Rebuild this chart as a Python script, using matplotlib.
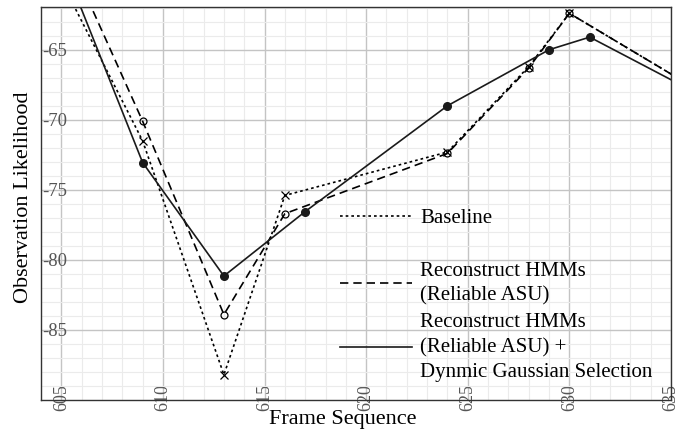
import matplotlib
matplotlib.use("Agg")
import matplotlib.pyplot as plt
from matplotlib.ticker import MultipleLocator

plt.rcParams['font.family'] = ['Liberation Serif', 'DejaVu Serif']

# Data (frame index, observation likelihood)
baseline_x = [605, 609, 613, 616, 624, 628, 630, 636]
baseline_y = [-60.1, -71.5, -88.2, -75.4, -72.3, -66.2, -62.4, -67.6]

reliable_x = [605, 609, 613, 616, 624, 628, 630, 636]
reliable_y = [-57.2, -70.1, -83.9, -76.7, -72.4, -66.3, -62.4, -67.6]

dgs_x = [605, 609, 613, 617, 624, 629, 631, 636]
dgs_y = [-58.5, -73.05, -81.15, -76.55, -69.0, -65.0, -64.1, -67.9]

labels = ["Baseline",
          "Reconstruct HMMs\n(Reliable ASU)",
          "Reconstruct HMMs\n(Reliable ASU) +\nDynmic Gaussian Selection"]

xticks = [605, 610, 615, 620, 625, 630, 635]
yticks = [-65, -70, -75, -80, -85]

fig = plt.figure(figsize=(6.92, 4.33), dpi=100)
ax = fig.add_axes([41/692, 33/433, 630/692, 393/433])

l1, = ax.plot(baseline_x, baseline_y, color='black', lw=1.2, linestyle=(0, (1.6, 1.8)),
              marker='x', ms=6, mew=0.9, label=labels[0])
l2, = ax.plot(reliable_x, reliable_y, color='black', lw=1.2, linestyle=(0, (5, 3)),
              marker='o', ms=5, mfc='none', mew=0.9, label=labels[1])
l3, = ax.plot(dgs_x, dgs_y, color='#1a1a1a', lw=1.2, linestyle='-',
              marker='o', ms=5.5, label=labels[2])

ax.set_xlim(604.0, 635)
ax.set_ylim(-90, -61.95)
ax.set_xticks(xticks)
ax.set_yticks(yticks)
ax.xaxis.set_minor_locator(MultipleLocator(1))
ax.yaxis.set_minor_locator(MultipleLocator(1))
ax.grid(which='major', color='#c4c4c4', lw=1.0)
ax.grid(which='minor', color='#ebebeb', lw=0.8)
ax.set_axisbelow(True)

ax.tick_params(which='both', length=0)
ax.tick_params(axis='y', labelsize=13.5, labelcolor='#555555', pad=-1)
ax.tick_params(axis='x', labelsize=13, labelcolor='#555555', pad=-1.5)
ax.set_yticklabels([str(v) for v in yticks])
ax.set_xticklabels([str(v) for v in xticks], rotation=90, va='center')
for t in ax.get_yticklabels():
    t.set_horizontalalignment('left')

for s in ax.spines.values():
    s.set_color('#333333')
    s.set_linewidth(1.0)

ax.set_xlabel("Frame Sequence", fontsize=16)
ax.set_ylabel("Observation Likelihood", fontsize=16)
ax.xaxis.set_label_coords(0.479, -0.026)
ax.yaxis.set_label_coords(-0.012, 0.516)

x0 = 299/630
legs = []
for h, lab, yc in [(l1, labels[0], 0.463), (l2, labels[1], 0.296), (l3, labels[2], 0.134)]:
    leg = ax.legend([h], [lab], loc='center left', bbox_to_anchor=(x0, yc),
                    frameon=False, fontsize=15, handlelength=3.45, handletextpad=0.4,
                    borderpad=0, borderaxespad=0)
    for line in leg.get_lines():
        line.set_marker('')
    for t in leg.get_texts():
        t.set_linespacing(1.4)
    legs.append(leg)
ax.legend_ = None
for leg in legs:
    ax.add_artist(leg)

fig.savefig("out.png", dpi=100)
